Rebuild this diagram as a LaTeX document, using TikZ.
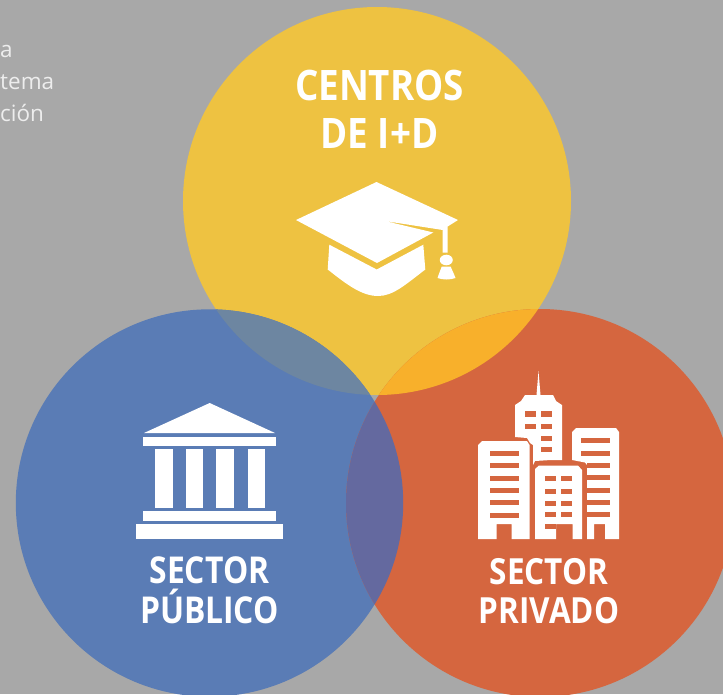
\documentclass[tikz,border=0pt]{standalone}
\usepackage{fontspec}
\setmainfont{Open Sans}
\definecolor{bgc}{HTML}{A8A8A8}
\definecolor{yel}{HTML}{EEC241}
\definecolor{blu}{HTML}{5A7CB5}
\definecolor{ora}{HTML}{D5663F}
\definecolor{yb}{HTML}{6D86A1}
\definecolor{yo}{HTML}{F8B02B}
\definecolor{bo}{HTML}{64699F}
\definecolor{lighttxt}{HTML}{EDEDED}
\tikzset{
  title/.style={text=white,font=\bfseries\fontsize{42}{48}\selectfont,align=center,inner sep=0pt,xscale=0.875},
  titleb/.style={text=white,font=\bfseries\fontsize{37}{40}\selectfont,align=center,inner sep=0pt,xscale=0.86},
  titlec/.style={text=white,font=\bfseries\fontsize{36}{39}\selectfont,align=center,inner sep=0pt,xscale=0.875},
  side/.style={text=lighttxt,font=\fontsize{22.5}{26}\selectfont,anchor=base west,inner sep=0pt},
  icon/.style={fill=white,draw=none}
}
\begin{document}
\begin{tikzpicture}[x=1pt,y=-1pt]
\useasboundingbox (0,0) rectangle (723,694);
\fill[bgc] (0,0) rectangle (723,694);
\clip (0,0) rectangle (723,694);
\node[side] (t1) at (0,57) {a};
\node[side] (t2) at (0,89) {tema};
\node[side] (t3) at (0,121) {ción};
\def\cy{(377,201) circle[radius=194]}
\def\cb{(209.5,503) circle[radius=193.7]}
\def\co{(540,503) circle[radius=194]}
\fill[yel] \cy;
\fill[blu] \cb;
\fill[ora] \co;
\begin{scope}\clip \cy; \fill[yb] \cb; \fill[yo] \co; \end{scope}
\begin{scope}\clip \cb; \fill[bo] \co; \end{scope}
\node[title] (n1) at (379.5,109) {CENTROS\\DE I+D};
\node[titleb] (n2) at (209.5,590.5) {SECTOR\\PÚBLICO};
\node[titlec] (n3) at (549,591.5) {SECTOR\\PRIVADO};
% cap
\fill[icon] (376.5,182) -- (458,220) -- (447.7,226.5) -- (447.7,252.5) -- (442.7,252.5) -- (442.7,230) -- (385,221) -- (433.3,232.5) -- (377,263) -- (296,220) -- cycle;
\fill[icon] (329.3,244.7) -- (376.7,269.5) -- (423.3,244.7) -- (425.3,269.5) .. controls (405,285) and (393,296) .. (378,296) .. controls (361,296) and (345,283) .. (327.7,269.5) -- cycle;
\fill[icon] (446.3,260) circle[x radius=6.5,y radius=5.3];
\fill[icon] (441.7,266.7) -- (450.7,266.7) .. controls (452.5,271) and (454.5,275) .. (455.5,278) .. controls (450,280) and (443,280) .. (437.5,278) .. controls (438.5,275) and (440,271) .. (441.7,266.7) -- cycle;
% temple
\fill[icon] (209.7,403) -- (275,433) -- (144,433) -- cycle;
\fill[icon] (143,437) rectangle (276,446);
\fill[icon] (155,449) rectangle (173,508);
\fill[icon] (186,449) rectangle (203,508);
\fill[icon] (216,449) rectangle (234,508);
\fill[icon] (248,449) rectangle (265,508);
\fill[icon] (143,511) rectangle (276,521);
\fill[icon] (136,524) rectangle (283,539);
% buildings: top tower
\fill[icon] (538.5,371) -- (540.5,395) -- (553,395) -- (556,401) -- (562,405) -- (562,460) -- (551,460) -- (535,461) -- (533,465) -- (533,445) -- (530,443) -- (527,438) -- (515,437) -- (515,405) -- (521,401) -- (525,395) -- (536.5,395) -- cycle;
% left building
\fill[icon] (482,441) -- (527,441) -- (529.5,445) -- (529.5,539) -- (511.7,539) -- (511.7,524) -- (496.7,524) -- (496.7,539) -- (478,539) -- (478,445) -- cycle;
% right building
\fill[icon] (576,428) -- (616,428) -- (619,432) -- (619,539) -- (605,539) -- (605,524) -- (594,524) -- (594,539) -- (587,539) -- (587,465) -- (585,462.5) -- (572,460) -- (572,432) -- cycle;
% centre building
\fill[icon] (539,465.5) -- (578,465.5) -- (582,470) -- (582,539) -- (572.7,539) -- (572.7,524) -- (556,524) -- (556,539) -- (535,539) -- (535,469) -- cycle;
% windows
\foreach \y in {411.3,424}{
  \fill[ora] (525,\y) rectangle (535.7,\y+5.3);
}
\foreach \y in {411.3,424,435.7,447}{
  \fill[ora] (541,\y) rectangle (552,\y+5.3);
}
\foreach \y in {451,463.3,475.6,487.9,500.2,512.5}{
  \fill[ora] (489.5,\y) rectangle (518.5,\y+5);
}
\fill[ora] (581,438) rectangle (610,443);
\fill[ora] (581,451) rectangle (610,456);
\foreach \y in {463,475,488,500,512}{
  \fill[ora] (587,\y) rectangle (610,\y+5);
}
\foreach \y in {476,488.7,500.5,512,524}{
  \fill[ora] (545,\y) rectangle (555.7,\y+5.3);
}
\foreach \y in {476,488.7,500.5,512}{
  \fill[ora] (561,\y) rectangle (572,\y+5.3);
}
\end{tikzpicture}
\end{document}
